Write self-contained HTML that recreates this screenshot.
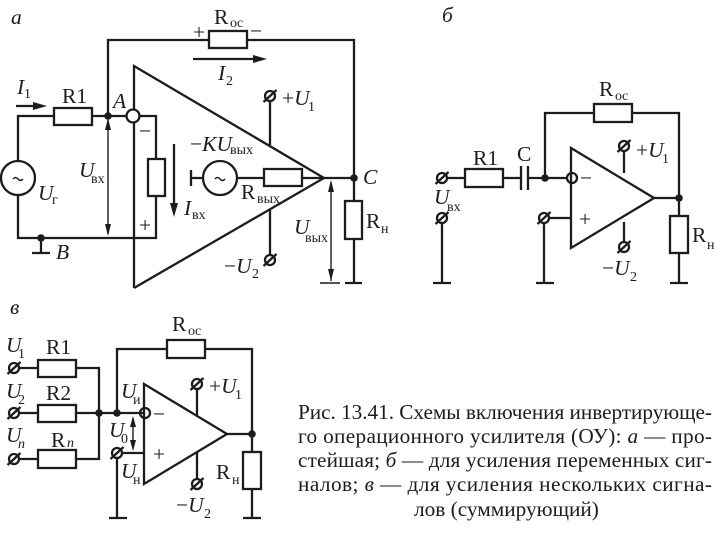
<!DOCTYPE html>
<html><head><meta charset="utf-8"><style>
html,body{margin:0;padding:0;background:#fff;width:721px;height:534px;overflow:hidden}
svg{display:block;filter:blur(.35px)}
text{font-family:"Liberation Serif",serif;fill:#1c1c1c;font-size:21.5px}
.i{font-style:italic}
.s{font-size:14px}
.c{font-size:21.3px}
.w{fill:none;stroke:#1c1c1c;stroke-width:2.3}
.t{fill:none;stroke:#1c1c1c;stroke-width:1.4}
.r{fill:#fff;stroke:#1c1c1c;stroke-width:2.3}
.d{fill:#1c1c1c}
</style></head><body>
<svg width="721" height="534" viewBox="0 0 721 534" xmlns="http://www.w3.org/2000/svg">
<defs>
<g id="T"><circle r="5" fill="#fff" stroke="#1c1c1c" stroke-width="2.3"/><path d="M-6.5 6 L6.5 -6" stroke="#1c1c1c" stroke-width="2.3"/></g>
</defs>

<!-- a -->
<path class="w" d="M18 160V116H54M92 116H133M108 116V40H209M247 40H354V201M354 239V283M345 283H362M18 196V238H156V196M156 159V116H133M41 238V253M32 253H50"/>
<path class="w" d="M134 288V66L324 178L134 288M238 178H264M302 178H354"/>
<path class="w" d="M270 96V145M270 210V258M191 170V186M191 178H203"/>
<rect class="r" x="54" y="108" width="38" height="17"/>
<rect class="r" x="209" y="31" width="38" height="17"/>
<rect class="r" x="148" y="159" width="17" height="37"/>
<rect class="r" x="345" y="201" width="17" height="38"/>
<rect class="r" x="264" y="169" width="38" height="17"/>
<circle class="r" cx="18" cy="178" r="17"/>
<circle class="r" cx="220" cy="178" r="17"/>
<path d="M13 179q2.500-3 5 0t5 0" class="t"/>
<path d="M215 179q2.500-3 5 0t5 0" class="t"/>
<circle class="d" cx="108" cy="116" r="3.800"/>
<circle class="d" cx="41" cy="238" r="3.800"/>
<circle class="d" cx="354" cy="178" r="3.800"/>
<circle class="r" cx="133" cy="116" r="6.500"/>
<use href="#T" x="270" y="96"/><use href="#T" x="270" y="260"/>
<path class="t" d="M108 120V234M331 182V281M320 283H340"/>
<path class="d" d="M108 118l-3 12h6zM108 236l-3-12h6zM331 180l-3 12h6zM331 281l-3-12h6z"/>
<path class="w" d="M193 59H255M16 106H36M174 144V205"/>
<path class="d" d="M267 59l-14-4v8zM47 106l-14-4v8zM174 217l-4-14h8z"/>
<text class="i" x="11" y="24">а</text>
<text x="214" y="24">R</text><text class="s" x="230" y="27">oc</text>
<text x="193" y="39">+</text><text x="250" y="38">−</text>
<text class="i" x="218" y="80">I</text><text class="s" x="226" y="85">2</text>
<text class="i" x="17" y="94">I</text><text class="s" x="24" y="98">1</text>
<text x="62" y="103">R1</text><text class="i" x="113" y="108">A</text>
<text class="i" x="79" y="177">U</text><text class="s" x="91" y="183">вх</text>
<text class="i" x="38" y="200">U</text><text class="s" x="52" y="204">г</text>
<text class="i" x="56" y="259">B</text>
<text x="139" y="138">−</text><text x="139" y="232">+</text>
<text class="i" x="184" y="215">I</text><text class="s" x="192" y="219">вх</text>
<text x="190" y="151">−<tspan class="i">KU</tspan></text><text class="s" x="230" y="154">вых</text>
<text x="241" y="199">R</text><text class="s" x="257" y="203">вых</text>
<text x="282" y="105">+<tspan class="i">U</tspan></text><text class="s" x="308" y="111">1</text>
<text x="224" y="273">−<tspan class="i">U</tspan></text><text class="s" x="252" y="278">2</text>
<text class="i" x="294" y="234">U</text><text class="s" x="305" y="242">вых</text>
<text class="i" x="363" y="184">C</text>
<text x="366" y="228">R</text><text class="s" x="381" y="233">н</text>

<!-- b -->
<text class="i" x="442" y="22">б</text>
<path class="w" d="M447 178H465M503 178H521M528 178H566M545 178V113H594M632 113H679V216M679 253V283M670 283H688M521 166V190M528 166V190M442 218V283M433 283H451M544 218V283M536 283H554M544 218H571M654 198H679M624 146V173M624 222V245"/>
<path class="w" d="M571 148L654 198L571 248Z"/>
<rect class="r" x="465" y="169" width="38" height="18"/>
<rect class="r" x="594" y="104" width="38" height="18"/>
<rect class="r" x="670" y="216" width="18" height="37"/>
<circle class="d" cx="545" cy="178" r="3.800"/><circle class="d" cx="679" cy="198" r="3.800"/>
<circle class="r" cx="572" cy="178" r="5" style="fill:none"/>
<use href="#T" x="442" y="178"/><use href="#T" x="442" y="218"/><use href="#T" x="544" y="218"/>
<use href="#T" x="624" y="146"/><use href="#T" x="624" y="247"/>
<text x="599" y="96">R</text><text class="s" x="615" y="100">oc</text>
<text x="473" y="165">R1</text><text x="517" y="161">C</text>
<text class="i" x="434" y="204">U</text><text class="s" x="447" y="211">вх</text>
<text x="580" y="185">−</text><text x="579" y="226">+</text>
<text x="636" y="157">+<tspan class="i">U</tspan></text><text class="s" x="662" y="163">1</text>
<text x="602" y="275">−<tspan class="i">U</tspan></text><text class="s" x="630" y="281">2</text>
<text x="692" y="242">R</text><text class="s" x="707" y="249">н</text>

<!-- v -->
<text class="i" x="10" y="314">в</text>
<path class="w" d="M19 368H38M76 368H99V459H76M19 413H38M76 413H144M19 459H38M117 413V349H167M205 349H252V452M252 489V518M243 518H261M117 453V518M109 518H127M117 453H144M227 434H252M197 384V415M197 452V482"/>
<path class="w" d="M144 384L227 434L144 484Z"/>
<rect class="r" x="38" y="360" width="38" height="17"/>
<rect class="r" x="38" y="405" width="38" height="17"/>
<rect class="r" x="38" y="450" width="38" height="18"/>
<rect class="r" x="167" y="340" width="38" height="18"/>
<rect class="r" x="243" y="452" width="18" height="37"/>
<circle class="d" cx="99" cy="413" r="3.800"/><circle class="d" cx="117" cy="413" r="3.800"/><circle class="d" cx="252" cy="434" r="3.800"/>
<circle class="r" cx="145" cy="413" r="5" style="fill:none"/>
<use href="#T" x="14" y="368"/><use href="#T" x="14" y="413"/><use href="#T" x="14" y="459"/>
<use href="#T" x="117" y="453"/><use href="#T" x="197" y="384"/><use href="#T" x="197" y="484"/>
<path class="t" d="M133 418V449"/>
<path class="d" d="M133 416l-3 11h6zM133 451l-3-11h6z"/>
<text class="i" x="6" y="352">U</text><text class="s" x="18" y="358">1</text>
<text class="i" x="6" y="398">U</text><text class="s" x="18" y="404">2</text>
<text class="i" x="6" y="442">U</text><text class="s i" x="18" y="448">п</text>
<text x="46" y="354">R1</text><text x="46" y="400">R2</text>
<text x="51" y="447">R</text><text class="s i" x="67" y="447">п</text>
<text x="172" y="331">R</text><text class="s" x="188" y="335">oc</text>
<text class="i" x="121" y="398">U</text><text class="s" x="133" y="404">и</text>
<text class="i" x="109" y="437">U</text><text class="s" x="121" y="443">0</text>
<text class="i" x="121" y="478">U</text><text class="s" x="133" y="484">н</text>
<text x="153" y="421">−</text><text x="153" y="461">+</text>
<text x="209" y="393">+<tspan class="i">U</tspan></text><text class="s" x="235" y="399">1</text>
<text x="176" y="512">−<tspan class="i">U</tspan></text><text class="s" x="204" y="518">2</text>
<text x="216" y="479">R</text><text class="s" x="232" y="484">н</text>

<!-- caption -->
<text class="c" x="298" y="419" textLength="414">Рис. 13.41. Схемы включения инвертирующе-</text>
<text class="c" x="298" y="443" textLength="414">го операционного усилителя (ОУ): <tspan class="i">а</tspan> — про-</text>
<text class="c" x="298" y="467" textLength="414">стейшая; <tspan class="i">б</tspan> — для усиления переменных сиг-</text>
<text class="c" x="298" y="491" textLength="414">налов; <tspan class="i">в</tspan> — для усиления нескольких сигна-</text>
<text class="c" x="414" y="516">лов (суммирующий)</text>
</svg>
</body></html>
